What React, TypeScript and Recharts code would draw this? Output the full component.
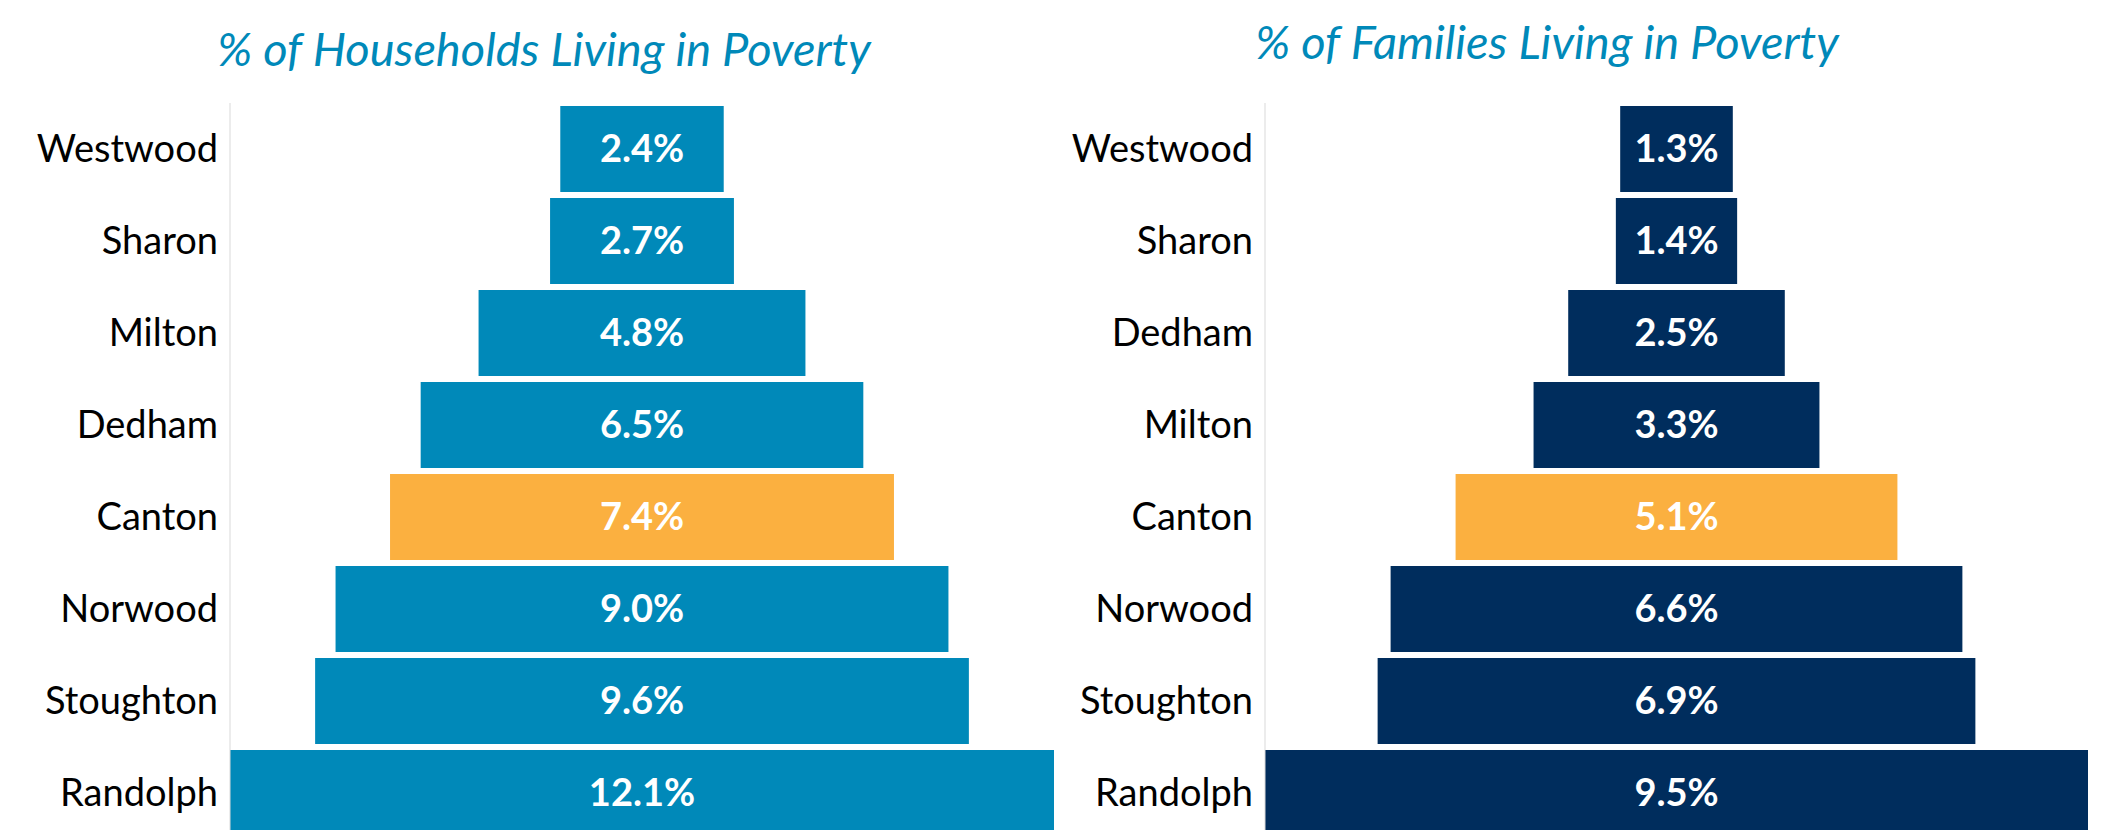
import { BarChart, Bar, XAxis, YAxis, Cell, LabelList } from 'recharts';

// left panel: households
const householdTowns = ['Westwood', 'Sharon', 'Milton', 'Dedham', 'Canton', 'Norwood', 'Stoughton', 'Randolph'];
const householdPct = [2.4, 2.7, 4.8, 6.5, 7.4, 9.0, 9.6, 12.1];

// right panel: families
const familyTowns = ['Westwood', 'Sharon', 'Dedham', 'Milton', 'Canton', 'Norwood', 'Stoughton', 'Randolph'];
const familyPct = [1.3, 1.4, 2.5, 3.3, 5.1, 6.6, 6.9, 9.5];

const highlightTown = 'Canton';

const TITLE_COLOR = '#0089B9';
const ORANGE = '#FBB040';
const FONT = 'Lato, "Noto Sans", sans-serif';

// funnel = invisible spacer stacked before the real bar
function buildRows(towns: string[], values: number[]) {
  const max = Math.max(...values);
  return towns.map((name, i) => ({
    name,
    value: values[i],
    pad: (max - values[i]) / 2,
  }));
}

type PanelProps = {
  towns: string[];
  values: number[];
  color: string;
  left: number;
  width: number;
  axisWidth: number;
};

function FunnelPanel({ towns, values, color, left, width, axisWidth }: PanelProps) {
  const rows = buildRows(towns, values);
  const max = Math.max(...values);
  return (
    <div style={{ position: 'absolute', left, top: 0 }}>
      <BarChart
        width={width}
        height={842}
        data={rows}
        layout="vertical"
        margin={{ top: 103, right: 6, bottom: 3, left: 0 }}
      >
        <XAxis type="number" domain={[0, max]} hide />
        <YAxis
          type="category"
          dataKey="name"
          width={axisWidth}
          tickLine={false}
          tickMargin={6}
          axisLine={{ stroke: '#d9d9d9', strokeWidth: 1 }}
          tick={{ fill: '#000', fontSize: 38, fontFamily: FONT }}
          interval={0}
        />
        <Bar dataKey="pad" stackId="f" fill="transparent" barSize={86} isAnimationActive={false} />
        <Bar dataKey="value" stackId="f" barSize={86} isAnimationActive={false}>
          {rows.map((r) => (
            <Cell key={r.name} fill={r.name === highlightTown ? ORANGE : color} />
          ))}
          <LabelList
            dataKey="value"
            position="center"
            formatter={(v: any) => `${Number(v).toFixed(1)}%`}
            style={{ fill: '#fff', fontSize: 38, fontWeight: 700, fontFamily: FONT }}
          />
        </Bar>
      </BarChart>
    </div>
  );
}

function Title({ text, center, top }: { text: string; center: number; top: number }) {
  return (
    <div
      style={{
        position: 'absolute',
        left: center - 500,
        width: 1000,
        top,
        textAlign: 'center',
        color: TITLE_COLOR,
        fontFamily: FONT,
        fontStyle: 'italic',
        fontSize: 47,
        lineHeight: '56px',
        whiteSpace: 'nowrap',
      }}
    >
      {text}
    </div>
  );
}

export default function App() {
  return (
    <div
      style={{
        position: 'absolute',
        left: 0,
        top: 0,
        width: 2102,
        height: 830,
        overflow: 'hidden',
        background: '#fff',
      }}
    >
      <Title text="% of Households Living in Poverty" center={544} top={20} />
      <Title text="% of Families Living in Poverty" center={1547} top={13} />
      <FunnelPanel
        towns={householdTowns}
        values={householdPct}
        color="#0089B9"
        left={0}
        width={1060}
        axisWidth={230}
      />
      <FunnelPanel
        towns={familyTowns}
        values={familyPct}
        color="#002D5D"
        left={1040}
        width={1054}
        axisWidth={225}
      />
    </div>
  );
}
